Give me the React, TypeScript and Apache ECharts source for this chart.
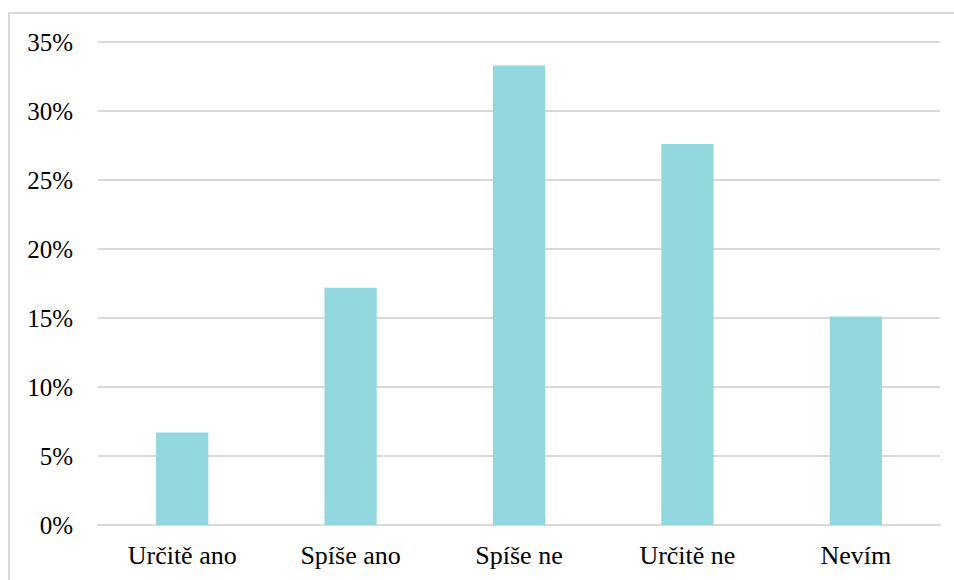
import React, { useEffect, useRef } from "react";
import * as echarts from "echarts";

const categories = ["Určitě ano", "Spíše ano", "Spíše ne", "Určitě ne", "Nevím"];
const values = [6.7, 17.2, 33.3, 27.6, 15.1];
const yTicks = { min: 0, max: 35, interval: 5 };

export default function App() {
  const ref = useRef<HTMLDivElement>(null);
  useEffect(() => {
    if (!ref.current) return;
    const chart = echarts.init(ref.current, null, { renderer: "svg" });
    const font = "Liberation Serif";
    chart.setOption({
      animation: false,
      backgroundColor: "#ffffff",
      textStyle: { fontFamily: font },
      graphic: [
        {
          type: "rect",
          shape: { x: 9, y: 13, width: 1200, height: 1200 },
          style: { fill: "none", stroke: "#d9d9d9", lineWidth: 2 },
          z: -1,
        },
      ],
      grid: { left: 98, right: 14, top: 42, bottom: 55, containLabel: false },
      xAxis: {
        type: "category",
        data: categories,
        axisTick: { show: false },
        axisLine: { show: true, lineStyle: { color: "#d9d9d9", width: 2 } },
        axisLabel: { color: "#000000", fontFamily: font, fontSize: 26, margin: 17 },
      },
      yAxis: {
        type: "value",
        min: yTicks.min,
        max: yTicks.max,
        interval: yTicks.interval,
        axisLine: { show: false },
        axisTick: { show: false },
        splitLine: { lineStyle: { color: "#d9d9d9", width: 2 } },
        axisLabel: {
          color: "#000000",
          fontFamily: font,
          fontSize: 25,
          margin: 25,
          formatter: "{value}%",
        },
      },
      series: [
        {
          type: "bar",
          data: values,
          barWidth: "31%",
          itemStyle: { color: "#92D7DD" },
        },
      ],
    });
    return () => chart.dispose();
  }, []);
  return (
    <div
      ref={ref}
      style={{ position: "fixed", left: 0, top: 0, width: 954, height: 580 }}
    />
  );
}
